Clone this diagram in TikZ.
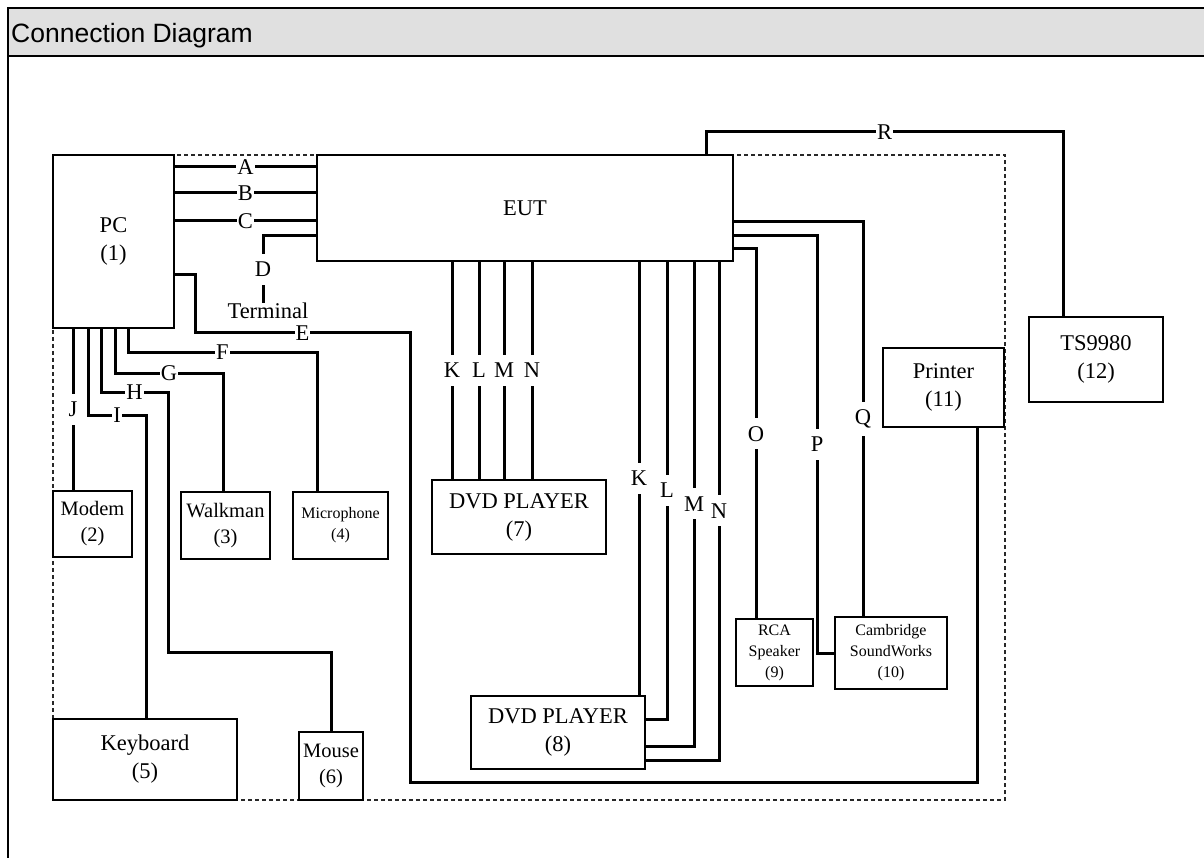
\documentclass[tikz,border=0pt]{standalone}
\usepackage{fontspec}
\setmainfont{Liberation Serif}
\newfontfamily\headfont{Liberation Sans}
\usetikzlibrary{positioning}
\definecolor{headgray}{RGB}{224,224,224}
\definecolor{dashgray}{RGB}{40,40,40}
\newcommand{\boxfont}{\fontsize{22.5}{28}\selectfont}
\newcommand{\midfont}{\fontsize{20.5}{26}\selectfont}
\newcommand{\tinyfont}{\fontsize{16}{21}\selectfont}
\tikzset{
  unit/.style     = {draw, line width=1.3pt, align=center, inner sep=0pt, font=\boxfont},
  unitmid/.style  = {unit, font=\midfont},
  unitsm/.style   = {unit, font=\tinyfont},
  cable/.style    = {line width=3pt},
  lbl/.style      = {fill=white, inner xsep=1pt, inner ysep=3pt, font=\boxfont},
  vlbl/.style     = {lbl, inner ysep=8pt},
  boundary/.style = {dashgray, line width=1.5pt, dash pattern=on 4pt off 3pt},
  frame/.style    = {line width=2pt},
}

\begin{document}
\begin{tikzpicture}[x=1pt, y=-1pt]
  \useasboundingbox (0,0) rectangle (1204,858);
  \clip (0,0) rectangle (1204,858);

  % 表头
  \fill[headgray] (8,8) rectangle (1210,56);
  \draw[frame] (1210,8) -- (8,8) -- (8,870);
  \draw[frame] (8,56) -- (1210,56);
  \node[font=\headfont\fontsize{26.5}{30}\selectfont, inner sep=0pt, anchor=base west] (title) at (11,43) {Connection Diagram};

  % 测试区域边界
  \draw[boundary] (53,155) rectangle (1005,800);

  % 设备
  \node[unit, minimum width=121pt, minimum height=173pt] (pc) at (113.5,241.5) {PC\\(1)};
  \node[unit, minimum width=416pt, minimum height=106pt] (eut) at (525,208) {EUT};
  \node[font=\boxfont, inner sep=0pt, anchor=base] (term) at (268,319) {Terminal};
  \node[unitmid, minimum width=79pt, minimum height=66pt] (modem) at (92.5,524) {Modem\\(2)};
  \node[unitmid, minimum width=89pt, minimum height=67pt] (walk) at (225.5,525.5) {Walkman\\(3)};
  \node[unitsm, minimum width=95pt, minimum height=67pt] (mic) at (340.5,525.5) {Microphone\\(4)};
  \node[unit, minimum width=184pt, minimum height=81pt] (kbd) at (145,759.5) {Keyboard\\(5)};
  \node[unitmid, minimum width=64pt, minimum height=68pt] (mouse) at (331,766) {Mouse\\(6)};
  \node[unit, minimum width=174pt, minimum height=74pt] (dvda) at (519,517) {DVD PLAYER\\(7)};
  \node[unit, minimum width=174pt, minimum height=73pt] (dvdb) at (558,732.5) {DVD PLAYER\\(8)};
  \node[unitsm, minimum width=77pt, minimum height=67pt] (rca) at (774.5,652.5) {RCA\\Speaker\\(9)};
  \node[unitsm, minimum width=112pt, minimum height=72pt] (cam) at (891,653) {Cambridge\\SoundWorks\\(10)};
  \node[unit, minimum width=121pt, minimum height=79pt] (printer) at (943.5,387.5) {Printer\\(11)};
  \node[unit, minimum width=134pt, minimum height=85pt] (ts) at (1096,359.5) {TS9980\\(12)};

  % PC -- EUT
  \draw[cable] (pc.east |- 0,167) -- node[lbl] {A} (eut.west |- 0,167);
  \draw[cable] (pc.east |- 0,193) -- node[lbl] {B} (eut.west |- 0,193);
  \draw[cable] (pc.east |- 0,221) -- node[lbl] {C} (eut.west |- 0,221);
  \draw[cable] (eut.west |- 0,236) -| node[vlbl, pos=.75] {D} ([xshift=-5pt]term.north);

  % PC -- 外设
  \draw[cable] (pc.east |- 0,275) -| (195,333) -- node[lbl] {E} (410,333) |- (977,782) -- (printer.south -| 977,0);
  \draw[cable] (pc.south -| 128,0) |- node[lbl, pos=.75] {F} (317,352) -- (mic.north -| 317,0);
  \draw[cable] (pc.south -| 115,0) |- node[lbl, pos=.75] {G} (223,373) -- (walk.north -| 223,0);
  \draw[cable] (pc.south -| 101,0) |- node[lbl, pos=.75] {H} (168,392) |- (331,652) -- (mouse.north);
  \draw[cable] (pc.south -| 88,0) |- node[lbl, pos=.75] {I} (146,415) -- (kbd.north -| 146,0);
  \draw[cable] (pc.south -| 73,0) -- node[vlbl] {J} (modem.north -| 73,0);

  % EUT -- DVD PLAYER (7)
  \draw[cable] (eut.south -| 452,0) -- node[vlbl] {K} (dvda.north -| 452,0);
  \draw[cable] (eut.south -| 479,0) -- node[vlbl] {L} (dvda.north -| 479,0);
  \draw[cable] (eut.south -| 504,0) -- node[vlbl] {M} (dvda.north -| 504,0);
  \draw[cable] (eut.south -| 532,0) -- node[vlbl] {N} (dvda.north -| 532,0);

  % EUT -- DVD PLAYER (8)
  \draw[cable] (eut.south -| 639,0) -- node[vlbl] {K} (dvdb.north -| 639,0);
  \draw[cable] (eut.south -| 667,0) -- node[vlbl] {L} (667,719) -- (dvdb.east |- 0,719);
  \draw[cable] (eut.south -| 694,0) -- node[vlbl] {M} (694,746) -- (dvdb.east |- 0,746);
  \draw[cable] (eut.south -| 719,0) -- node[vlbl] {N} (719,760) -- (dvdb.east |- 0,760);

  % EUT -- 音箱 / TS9980
  \draw[cable] (eut.east |- 0,249) -| node[vlbl, pos=.75] {O} (rca.north -| 756,0);
  \draw[cable] (eut.east |- 0,236) -| node[vlbl, pos=.75] {P} (817,653) -- (cam.west |- 0,653);
  \draw[cable] (eut.east |- 0,222) -| node[vlbl, pos=.75] {Q} (cam.north -| 863,0);
  \draw[cable] (eut.north -| 706,0) |- node[lbl, pos=.75] {R} (1063,132) -- (ts.north -| 1063,0);

\end{tikzpicture}
\end{document}
